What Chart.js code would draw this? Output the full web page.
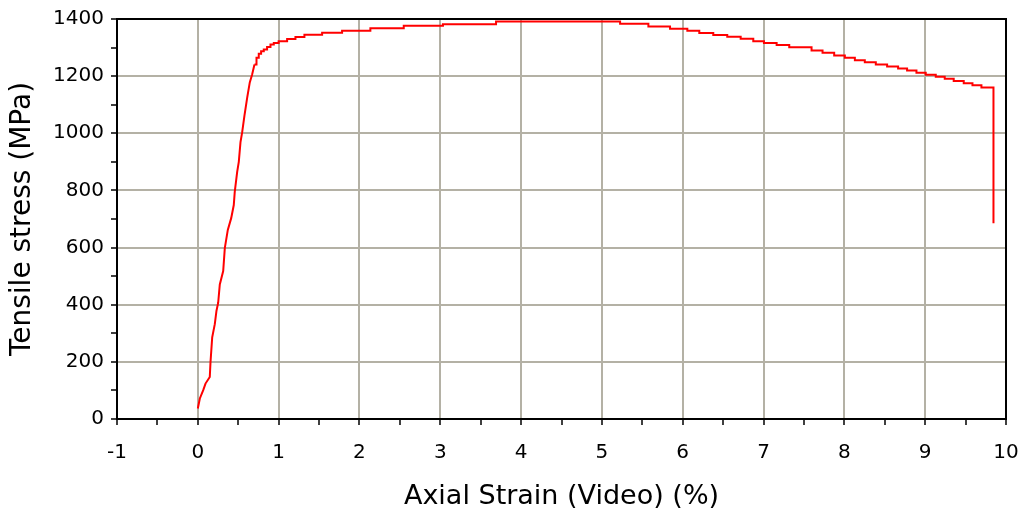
<!DOCTYPE html>
<html>
<head>
<meta charset="utf-8">
<script src="https://cdn.jsdelivr.net/npm/chart.js@4"></script>
<style>
  body { margin: 0; background: #fff; }
</style>
</head>
<body>
<canvas id="myChart" width="1029" height="518"></canvas>
<script>
// strain (%) and stress (MPa)
const strain = [0, 0.025, 0.067, 0.095, 0.148, 0.157, 0.178, 0.21, 0.231, 0.252, 0.272, 0.314, 0.334, 0.371, 0.413, 0.445, 0.457, 0.487, 0.507, 0.528, 0.549, 0.577, 0.611, 0.643, 0.672, 0.701,
  0.726, 0.754, 0.783, 0.816, 0.857, 0.899, 0.94, 1.0, 1.105, 1.208, 1.319, 1.538, 1.785, 2.135, 2.548, 3.033, 3.69,
  5.225, 5.575, 5.843, 6.057, 6.205, 6.378, 6.551, 6.717, 6.873, 7.005, 7.162, 7.318, 7.594, 7.73, 7.874, 8.006, 8.13, 8.253, 8.389, 8.529, 8.665, 8.776, 8.892, 9.007, 9.131, 9.242, 9.353, 9.477, 9.585, 9.696, 9.845];
const stress = [37, 72, 101, 124, 147, 199, 286, 332, 379, 407, 471, 518, 598, 662, 703, 749, 795, 865, 900, 969, 1004, 1062, 1125, 1178, 1206, 1241,
  1264, 1278, 1287, 1293, 1302, 1311, 1316, 1322, 1330, 1337, 1345, 1352, 1359, 1368, 1376, 1382, 1391,
  1383, 1374, 1366, 1359, 1351, 1344, 1338, 1331, 1322, 1316, 1309, 1301, 1290, 1282, 1272, 1264, 1256, 1249, 1241, 1234, 1227, 1220, 1212, 1205, 1198, 1191, 1183, 1175, 1168, 1160, 685];

// the elastic part is drawn as a plain line, the rest as load steps
const splitAt = 25;

const xMin = -1, xMax = 10, xStep = 0.5;
const yMin = 0, yMax = 1400, yStep = 100;

const gridColor = '#b4b1a5';
const fontFamily = '"DejaVu Sans", Verdana, sans-serif';

const points = strain.map((x, i) => ({ x: x, y: stress[i] }));

// box round the plot area
const frame = {
  id: 'frame',
  afterDraw(chart) {
    const a = chart.chartArea;
    const ctx = chart.ctx;
    ctx.save();
    ctx.strokeStyle = '#000';
    ctx.lineWidth = 2;
    ctx.strokeRect(a.left, a.top, a.right - a.left, a.bottom - a.top);
    ctx.restore();
  }
};

Chart.defaults.font.family = fontFamily;
Chart.defaults.color = '#000';

var chart = new Chart("myChart", {
  type: "line",
  data: {
    datasets: [{
      data: points.slice(0, splitAt + 1),
      borderColor: "#ff0000",
      backgroundColor: "transparent",
      borderWidth: 2,
      pointRadius: 0,
      tension: 0
    }, {
      data: points.slice(splitAt),
      borderColor: "#ff0000",
      backgroundColor: "transparent",
      borderWidth: 2,
      pointRadius: 0,
      stepped: true,
      tension: 0
    }]
  },
  options: {
    responsive: false,
    animation: false,
    layout: { padding: { top: 16, right: 23, left: 0, bottom: 0 } },
    plugins: {
      legend: { display: false },
      tooltip: { enabled: false }
    },
    scales: {
      x: {
        type: 'linear',
        min: xMin,
        max: xMax,
        afterFit: (s) => { s.height = 99; s.paddingLeft = 0; s.paddingRight = 0; },
        ticks: {
          stepSize: xStep,
          autoSkip: false,
          maxRotation: 0,
          padding: 16,
          font: { size: 20 },
          callback: (v) => (Number.isInteger(v) ? v : '')
        },
        grid: {
          color: (c) => (c.tick && Number.isInteger(c.tick.value) ? gridColor : 'rgba(0,0,0,0)'),
          lineWidth: 2,
          tickColor: '#000',
          tickLength: 6,
          tickWidth: 1.5
        },
        border: { color: '#000', width: 2 },
        title: {
          display: true,
          text: 'Axial Strain (Video) (%)',
          font: { size: 27 },
          padding: { top: 0, bottom: 5 }
        }
      },
      y: {
        min: yMin,
        max: yMax,
        afterFit: (s) => { s.width = 117; },
        ticks: {
          stepSize: yStep,
          autoSkip: false,
          padding: 7,
          font: { size: 20 },
          callback: (v) => (v % 200 === 0 ? v : '')
        },
        grid: {
          color: (c) => (c.tick && c.tick.value % 200 === 0 ? gridColor : 'rgba(0,0,0,0)'),
          lineWidth: 2,
          tickColor: '#000',
          tickLength: 6,
          tickWidth: 1.5
        },
        border: { color: '#000', width: 2 },
        title: {
          display: true,
          text: 'Tensile stress (MPa)',
          font: { size: 28 },
          padding: { top: 6, bottom: 0 }
        }
      }
    }
  },
  plugins: [frame]
});
</script>
</body>
</html>
